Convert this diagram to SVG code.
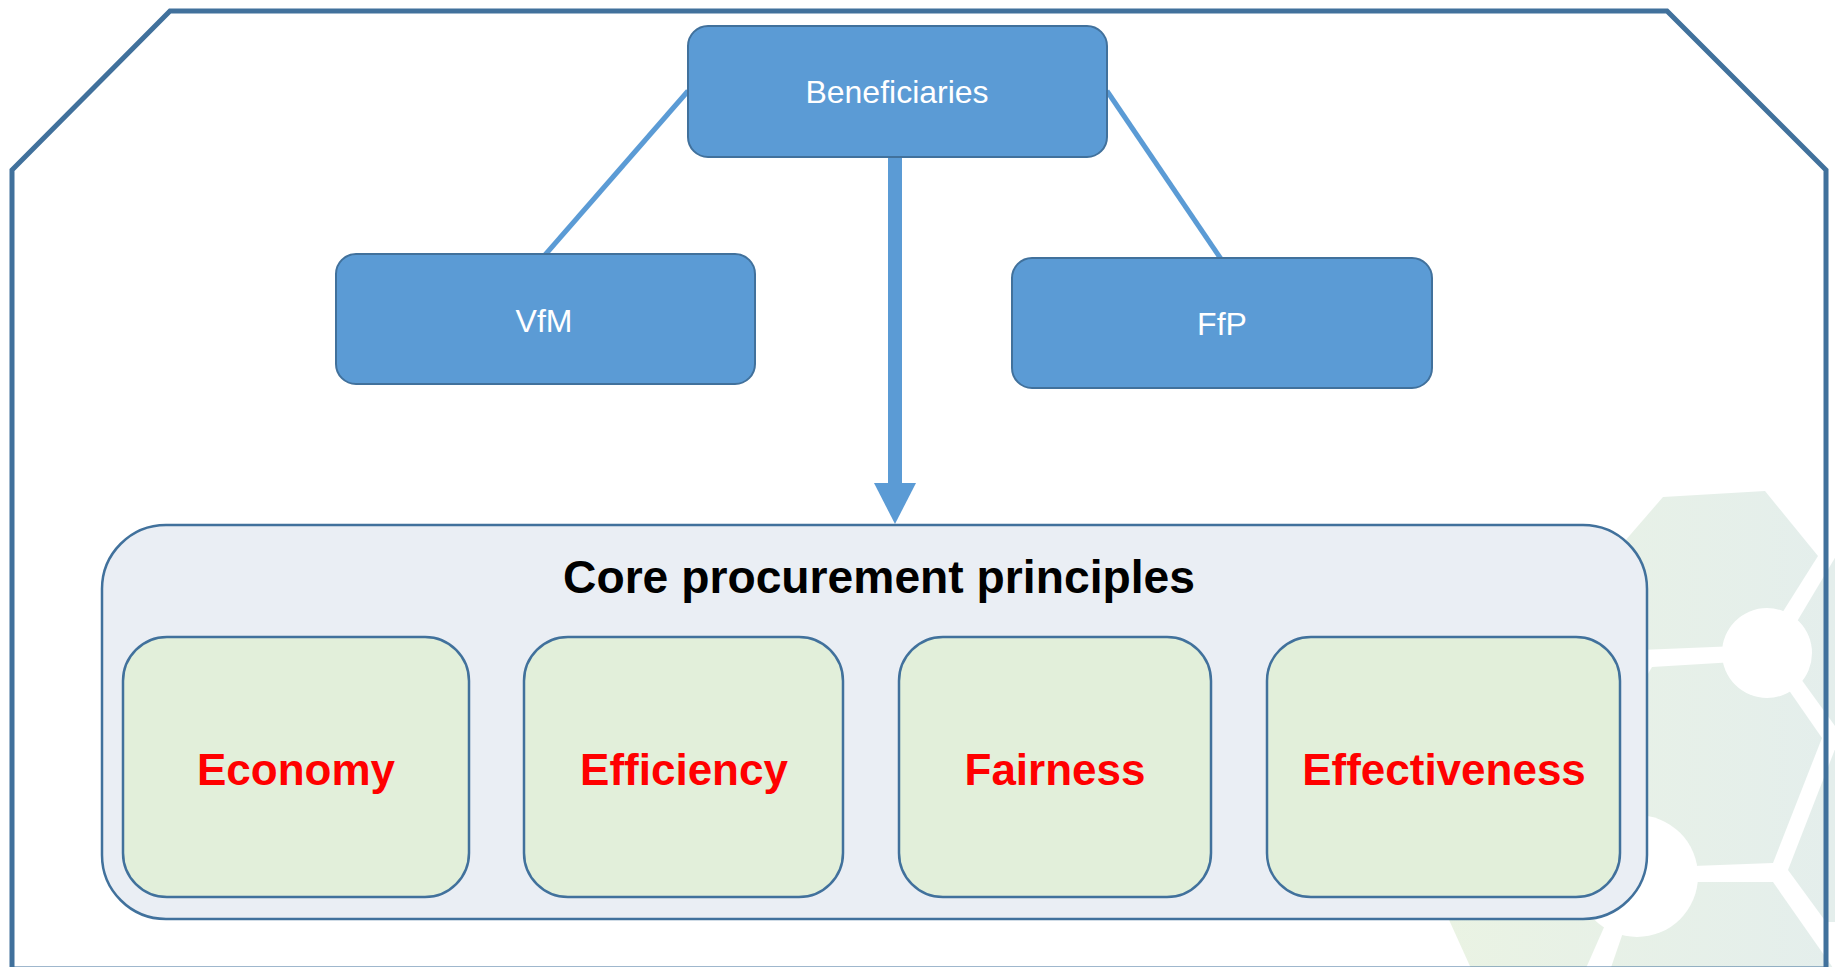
<svg xmlns="http://www.w3.org/2000/svg" width="1835" height="967" viewBox="0 0 1835 967">
<defs>
<linearGradient id="hexg" gradientUnits="userSpaceOnUse" x1="1440" y1="0" x2="1835" y2="0">
<stop offset="0" stop-color="#EAF3E3"/>
<stop offset="1" stop-color="#E4EEEC"/>
</linearGradient>
<style>
.hex{fill:url(#hexg);stroke:none}
.dot{fill:#FFFFFF}
.blue{fill:#5B9BD5;stroke:#41719C;stroke-width:2}
.btxt{font-family:"Liberation Sans",Arial,sans-serif;font-size:32px;fill:#FFFFFF;text-anchor:middle}
.cont{fill:#EAEEF4;stroke:#41719C;stroke-width:2.5}
.inner{fill:#E2EFDA;stroke:#41719C;stroke-width:2.5}
.rtxt{font-family:"Liberation Sans",Arial,sans-serif;font-size:44px;font-weight:bold;fill:#FF0000;text-anchor:middle}
.conn{stroke:#5B9BD5;stroke-width:5;fill:none}
</style>
</defs>
<rect width="1835" height="967" fill="#FFFFFF"/>
<g id="background-hexagons">
<polygon class="hex" points="1663,497 1765,491 1818,556 1762,645 1640,650 1598,572"/>
<polygon class="hex" points="1652,667 1768,660 1822,738 1773,863 1640,868 1595,765"/>
<polygon class="hex" points="1836,556 1780,650 1840,733 1870,733 1870,556"/>
<polygon class="hex" points="1837,744 1788,870 1826,922 1870,922 1870,744"/>
<polygon class="hex" points="1650,882 1773,882 1845,985 1605,985 1628,918"/>
<polygon class="hex" points="1470,840 1590,840 1616,900 1583,975 1474,975 1440,900"/>
<circle class="dot" cx="1767" cy="653" r="45"/>
<circle class="dot" cx="1637" cy="876" r="61"/>
</g>
<g id="frame">
<polygon points="12,170 170,11 1667,11 1826,170 1826,969 12,969" fill="none" stroke="#41719C" stroke-width="5"/>
</g>
<g id="connectors">
<line class="conn" x1="688" y1="91" x2="545" y2="255"/>
<line class="conn" x1="1107" y1="91" x2="1221" y2="259"/>
<rect x="888" y="157" width="14" height="327" fill="#5B9BD5"/>
<polygon points="874,483 916,483 895,524" fill="#5B9BD5"/>
</g>
<g id="beneficiaries">
<rect class="blue" x="688" y="26" width="419" height="131" rx="20"/>
<text class="btxt" x="897" y="103">Beneficiaries</text>
</g>
<g id="vfm">
<rect class="blue" x="336" y="254" width="419" height="130" rx="20"/>
<text class="btxt" x="544" y="332">VfM</text>
</g>
<g id="ffp">
<rect class="blue" x="1012" y="258" width="420" height="130" rx="20"/>
<text class="btxt" x="1222" y="335">FfP</text>
</g>
<g id="core-principles">
<rect class="cont" x="102" y="525" width="1545" height="394" rx="64"/>
<text x="879" y="593" font-family="Liberation Sans, Arial, sans-serif" font-size="47" font-weight="bold" fill="#000000" text-anchor="middle" textLength="632" lengthAdjust="spacingAndGlyphs">Core procurement principles</text>
</g>
<g id="economy">
<rect class="inner" x="123" y="637" width="346" height="260" rx="44"/>
<text class="rtxt" x="296" y="785">Economy</text>
</g>
<g id="efficiency">
<rect class="inner" x="524" y="637" width="319" height="260" rx="44"/>
<text class="rtxt" x="684" y="785">Efficiency</text>
</g>
<g id="fairness">
<rect class="inner" x="899" y="637" width="312" height="260" rx="44"/>
<text class="rtxt" x="1055" y="785">Fairness</text>
</g>
<g id="effectiveness">
<rect class="inner" x="1267" y="637" width="353" height="260" rx="44"/>
<text class="rtxt" x="1444" y="785">Effectiveness</text>
</g>
</svg>
